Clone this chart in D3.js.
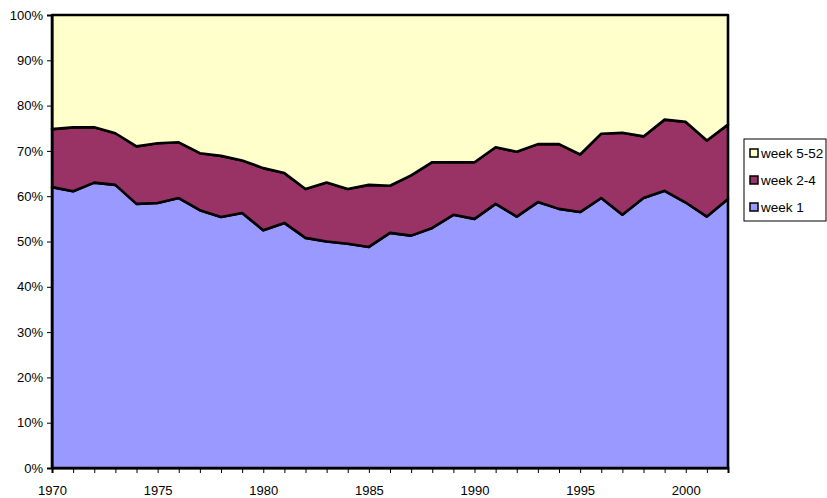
<!DOCTYPE html>
<html><head><meta charset="utf-8">
<script src="https://cdn.jsdelivr.net/npm/d3@7"></script>
<style>body{margin:0;background:#fff}svg{display:block}</style>
</head><body>
<script>
const years = d3.range(1970, 2003);
const week1 = [62.0,61.1,63.0,62.5,58.3,58.5,59.6,56.9,55.4,56.3,52.5,54.1,50.8,50.0,49.5,48.8,51.9,51.3,53.0,55.9,55.0,58.3,55.5,58.7,57.2,56.5,59.6,55.9,59.6,61.2,58.6,55.5,59.4];
const cumTop = [74.8,75.2,75.2,73.9,71.0,71.7,71.9,69.5,68.9,67.9,66.2,65.1,61.6,63.0,61.6,62.5,62.3,64.6,67.5,67.5,67.5,70.8,69.8,71.5,71.5,69.2,73.8,74.0,73.2,76.9,76.4,72.3,75.8];
const week2_4 = cumTop.map((t,i)=>+(t-week1[i]).toFixed(1));
const week5_52 = cumTop.map(t=>+(100-t).toFixed(1));
const seriesNames = ["week 1","week 2-4","week 5-52"];
const colors = ["#9999FF","#993366","#FFFFCC"];
const yTicks = d3.range(0, 101, 10);
const xLabels = [1970,1975,1980,1985,1990,1995,2000];

const W=827,H=498;
const m={left:52,right:99,top:15,bottom:30};
const svg=d3.select("body").append("svg").attr("width",W).attr("height",H)
  .style("font-family","Liberation Sans, Arial, sans-serif");

const x=d3.scaleLinear().domain([1970,2002]).range([m.left,W-m.right]);
const y=d3.scaleLinear().domain([0,100]).range([H-m.bottom,m.top]);

const table=years.map((yr,i)=>({year:yr,"week 1":week1[i],"week 2-4":week2_4[i],"week 5-52":week5_52[i]}));
const stack=d3.stack().keys(seriesNames)(table);
const area=d3.area().x(d=>x(d.data.year)).y0(d=>y(d[0])).y1(d=>y(d[1]));

svg.append("g").selectAll("path").data(stack).join("path")
  .attr("d",area).attr("fill",(d,i)=>colors[i])
  .attr("stroke","#000").attr("stroke-width",2.6).attr("stroke-linejoin","round");

// axes
const yAxis=d3.axisLeft(y).tickValues(yTicks).tickFormat(d=>d+"%").tickSize(5).tickPadding(4);
const gy=svg.append("g").attr("transform",`translate(${m.left},0)`).call(yAxis);
gy.select(".domain").attr("stroke","#000").attr("stroke-width",2);
gy.selectAll("text").attr("font-size",13).attr("fill","#000");

const xAxis=d3.axisBottom(x).tickValues(years).tickFormat(d=>xLabels.includes(d)?d:"").tickSize(5).tickPadding(13);
const gx=svg.append("g").attr("transform",`translate(0,${H-m.bottom})`).call(xAxis);
gx.select(".domain").attr("stroke","#000").attr("stroke-width",2);
gx.selectAll("text").attr("font-size",13).attr("fill","#000");
svg.selectAll(".tick line").attr("stroke","#000");

// legend
const lg=svg.append("g").attr("transform","translate(744,139)");
lg.append("rect").attr("width",82).attr("height",82).attr("fill","#fff").attr("stroke","#000").attr("stroke-width",1);
const items=[2,1,0];
items.forEach((si,k)=>{
  const yy=14+k*27;
  lg.append("rect").attr("x",6).attr("y",yy-4).attr("width",8).attr("height",8)
    .attr("fill",colors[si]).attr("stroke","#000").attr("stroke-width",1.5);
  lg.append("text").attr("x",17).attr("y",yy+4.5).attr("font-size",13.5).text(seriesNames[si]);
});
</script>
</body></html>
